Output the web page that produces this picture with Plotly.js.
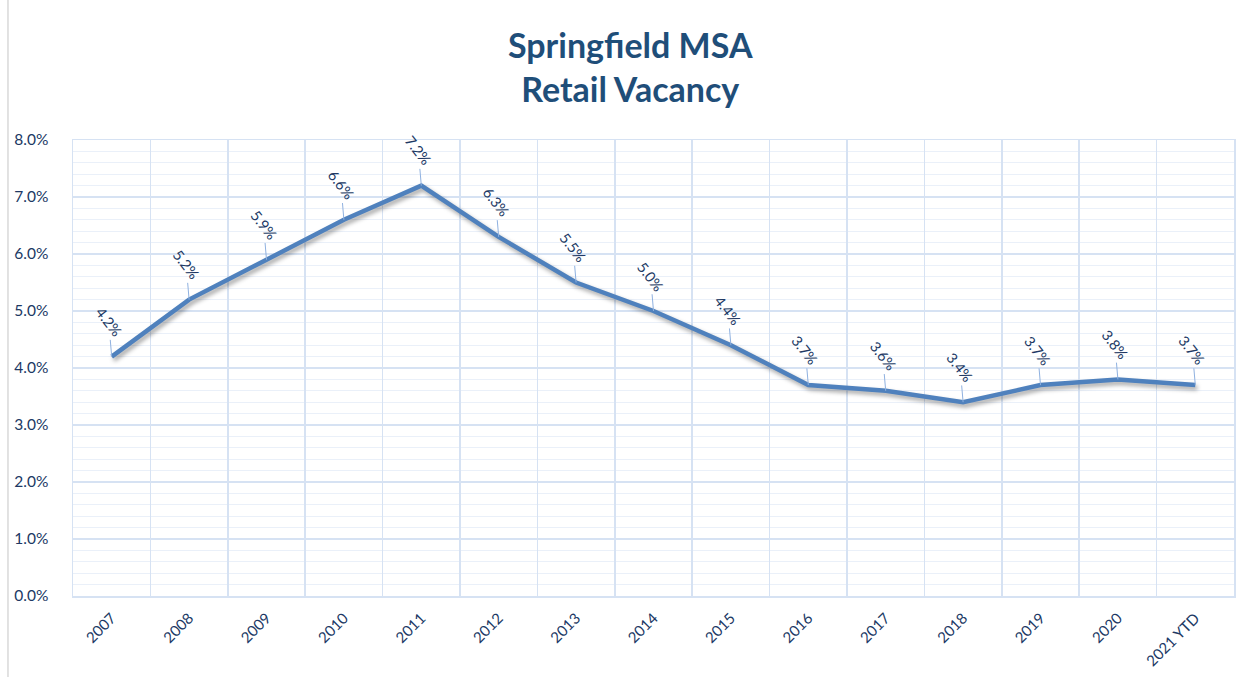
<!DOCTYPE html>
<html>
<head>
<meta charset="utf-8">
<script src="https://cdn.plot.ly/plotly-3.0.1.min.js"></script>
<style>
html,body{margin:0;padding:0;background:#fff;}
#chart{width:1248px;height:677px;}
.scatterlayer .js-line{filter:drop-shadow(2px 3px 2px rgba(0,0,0,0.35));}
</style>
</head>
<body>
<div id="chart"></div>
<script>
var years = ["2007","2008","2009","2010","2011","2012","2013","2014","2015","2016","2017","2018","2019","2020","2021 YTD"];
var vacancy = [0.042,0.052,0.059,0.066,0.072,0.063,0.055,0.050,0.044,0.037,0.036,0.034,0.037,0.038,0.037];
var labels = ["4.2%","5.2%","5.9%","6.6%","7.2%","6.3%","5.5%","5.0%","4.4%","3.7%","3.6%","3.4%","3.7%","3.8%","3.7%"];

var dark = "#203864";
var grid = "#d6e2f3";
var font = "Lato, 'Open Sans', sans-serif";

var annotations = years.map(function(y,i){
  return {
    x: i, y: vacancy[i], xref:"x", yref:"y",
    text: labels[i], showarrow:true, arrowhead:0, arrowwidth:1,
    arrowcolor:"#8fb1e0", ax:-3, ay:-35, textangle:52,
    font:{family:font, size:14.5, color:dark}
  };
});

var trace = {
  x: years, y: vacancy, type:"scatter", mode:"lines",
  line:{color:"#4f81bd", width:4.5},
  hoverinfo:"skip", cliponaxis:false
};

var layout = {
  width:1248, height:677,
  margin:{l:73, r:14, t:140, b:81},
  paper_bgcolor:"#fff", plot_bgcolor:"#fff",
  showlegend:false,
  title:{text:"<b>Springfield MSA<br>Retail Vacancy</b>", x:0.505, xanchor:"center", y:0.915, yanchor:"top",
         font:{family:font, size:34, color:"#1f4e79"}},
  xaxis:{type:"category", range:[-0.5,14.5], tickson:"boundaries", showgrid:true, gridcolor:grid, gridwidth:1.5,
         showline:true, linecolor:grid, linewidth:1.5, mirror:true, ticks:"", tickangle:-45,
         ticklabelstandoff:6,
         tickfont:{family:font, size:15, color:dark}, zeroline:false, fixedrange:true},
  yaxis:{range:[0,0.08], dtick:0.01, tickformat:".1%", showgrid:true, gridcolor:grid, gridwidth:1.5,
         showline:true, linecolor:grid, linewidth:1.5, mirror:true, ticks:"", zeroline:false,
         ticklabelstandoff:20,
         minor:{dtick:0.002, showgrid:true, gridcolor:"#eaf0f9", gridwidth:1},
         tickfont:{family:font, size:15.5, color:dark}, fixedrange:true},
  annotations: annotations,
  shapes:[{type:"line", xref:"paper", yref:"paper", x0:-0.056, x1:-0.056, y0:-0.18, y1:1.31,
           line:{color:"#d9d9d9", width:1.5}}]
};

Plotly.newPlot("chart",[trace],layout,{staticPlot:true});
</script>
</body>
</html>
